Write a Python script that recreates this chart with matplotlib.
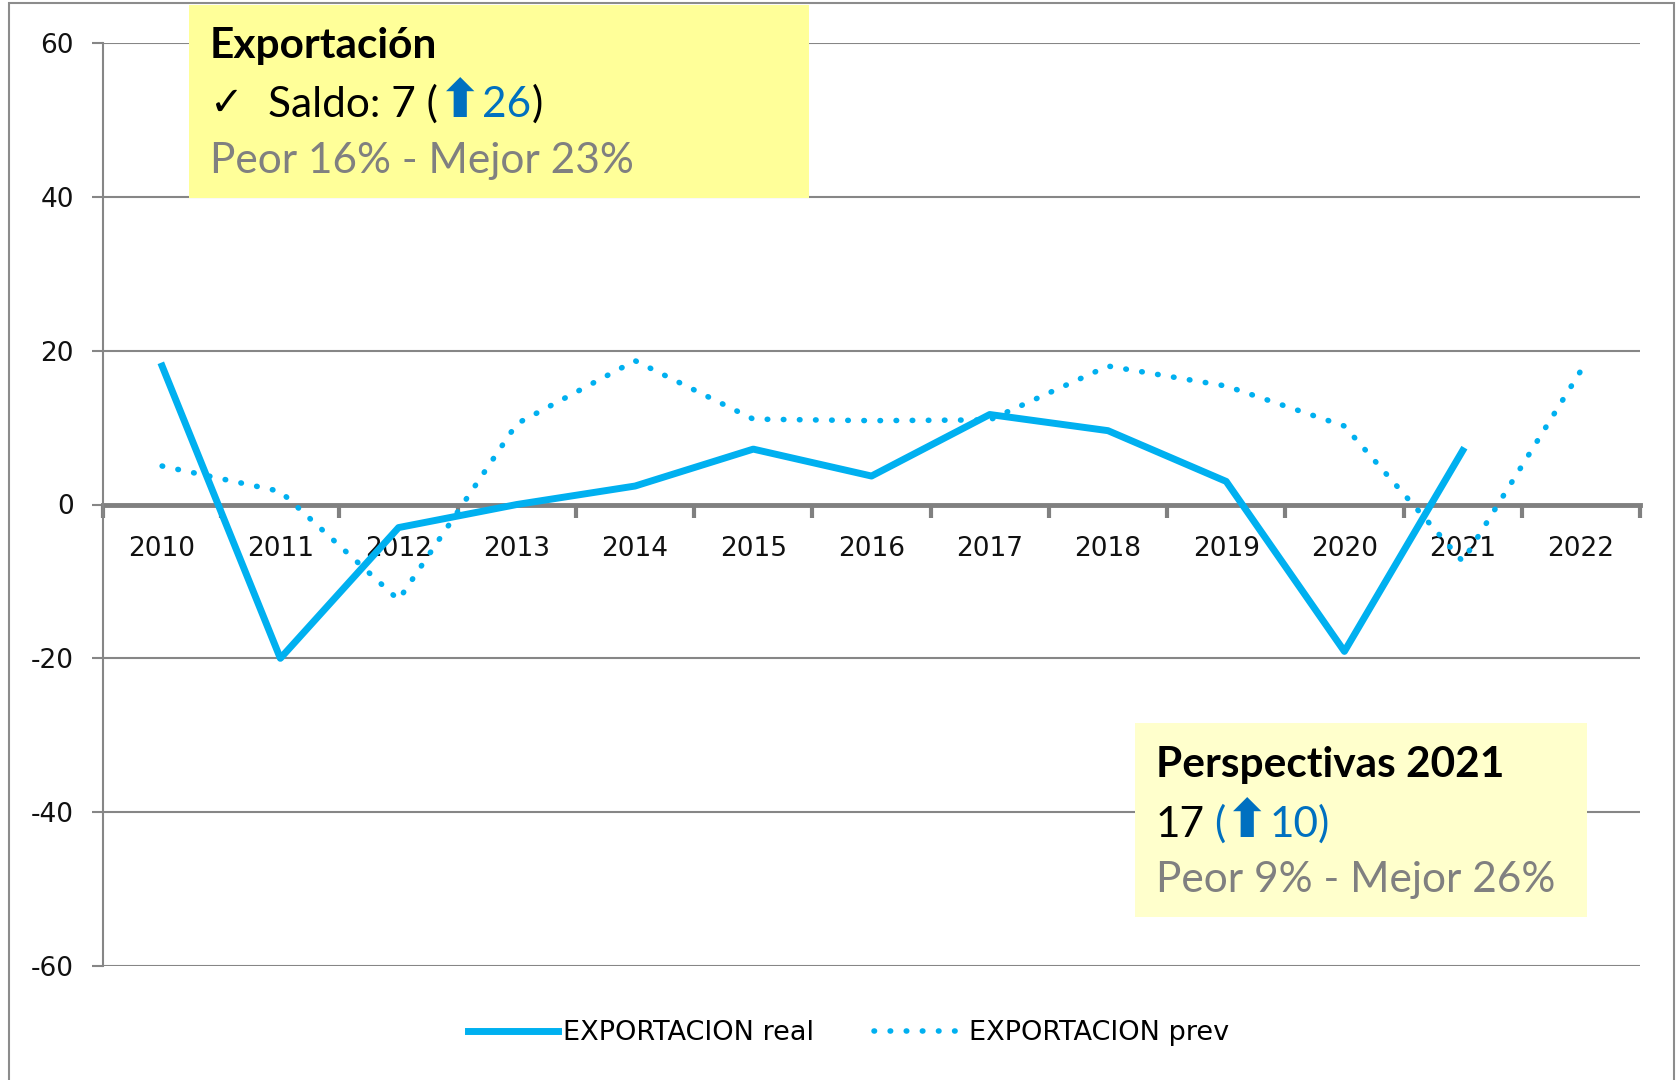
import numpy as np
import matplotlib.pyplot as plt
from matplotlib.patches import Rectangle

plt.rcParams['axes.unicode_minus'] = False

# data
years = ['2010', '2011', '2012', '2013', '2014', '2015', '2016',
         '2017', '2018', '2019', '2020', '2021', '2022']
real = [18.0, -20.0, -3.0, 0.0, 2.4, 7.2, 3.7, 11.7, 9.6, 3.0, -19.1, 7.0]
prev = [5.0, 1.7, -12.4, 10.5, 18.7, 11.1, 10.9, 11.0, 18.0, 15.4, 10.2, -7.4, 17.4]

W, H = 1677, 1080
blue = '#00B0F0'
grey = '#868686'

fig = plt.figure(figsize=(W / 100, H / 100), dpi=100)
ax = fig.add_axes([103 / W, 1 - 966 / H, (1640 - 103) / W, (966 - 43) / H])

x = np.arange(len(years))
ax.plot(x[:len(real)], real, color=blue, lw=5, label='EXPORTACION real', zorder=3)
ax.plot(x, prev, color=blue, lw=4, linestyle=(0, (0.1, 2.8)),
        dash_capstyle='round', label='EXPORTACION prev', zorder=3)

ax.set_xlim(-0.5, 12.5)
ax.set_ylim(-60, 60)
ax.set_yticks(range(-60, 61, 20))
ax.grid(axis='y', color=grey, lw=1.5)
ax.set_axisbelow(True)

for s in ['top', 'right']:
    ax.spines[s].set_visible(False)
ax.spines['left'].set_color(grey)
ax.spines['left'].set_linewidth(1.5)
ax.spines['bottom'].set_position(('data', 0))
ax.spines['bottom'].set_color('#808080')
ax.spines['bottom'].set_linewidth(3.5)
ax.spines['bottom'].set_zorder(2)

ax.set_xticks(x)
ax.set_xticklabels(years)
ax.set_xticks(np.arange(-0.5, 13, 1), minor=True)
ax.tick_params(axis='x', which='major', length=0, pad=23, labelsize=19, labelcolor='#111111')
ax.tick_params(axis='x', which='minor', length=9, width=3, color='#808080')
ax.tick_params(axis='y', length=8, width=1.5, color=grey, pad=13, labelsize=19, labelcolor='#111111')

ax.legend(loc='center', bbox_to_anchor=(0.506, 0.0435), bbox_transform=fig.transFigure,
          ncol=2, frameon=False, fontsize=19.5, handlelength=3.3, handletextpad=0.2,
          columnspacing=2.2)

# outer chart frame
fig.add_artist(Rectangle((9 / W, -0.1), (1674 - 9) / W, 1.1 - 3 / H, transform=fig.transFigure,
                         fill=False, edgecolor='#8c8c8c', lw=1.5))

# yellow boxes
fig.add_artist(Rectangle((189 / W, 1 - 198 / H), (809 - 189) / W, (198 - 5) / H,
                         transform=fig.transFigure, facecolor='#FFFF99', edgecolor='none', zorder=2))
fig.add_artist(Rectangle((1135 / W, 1 - 917 / H), (1587 - 1135) / W, (917 - 723) / H,
                         transform=fig.transFigure, facecolor='#FFFFCC', edgecolor='none', zorder=2))

renderer = fig.canvas.get_renderer()
fs = 30.5
txt = dict(family='Lato', fontsize=fs)
bold = dict(family='Lato', fontsize=fs, fontweight='bold')
arrow = dict(family='DejaVu Sans', fontsize=fs * 1.25, fontweight='bold', color='#0070C0')
space = 9


def put_line(xp, yp, pieces):
    for s, kw in pieces:
        if s == ' ':
            xp += space
            continue
        t = fig.text(xp / W, 1 - yp / H, s, va='baseline', ha='left', zorder=4, **kw)
        xp += t.get_window_extent(renderer).width


put_line(210, 58, [('Exportación', bold)])
put_line(210, 115, [('✓', dict(family='DejaVu Sans', fontsize=29, color='black'))])
put_line(268, 117, [('Saldo: 7 (', txt), ('⬆', arrow),
                    ('26', dict(txt, color='#0070C0')), (')', txt)])
put_line(210, 173, [('Peor 16% - Mejor 23%', dict(txt, color='#808080'))])

put_line(1156, 777, [('Perspectivas 2021', bold)])
put_line(1156, 837, [('17', txt), (' ', None), ('(', dict(txt, color='#0070C0')), ('⬆', arrow),
                     ('10)', dict(txt, color='#0070C0'))])
put_line(1156, 892, [('Peor 9% - Mejor 26%', dict(txt, color='#808080'))])

fig.savefig('out.png', dpi=100)
